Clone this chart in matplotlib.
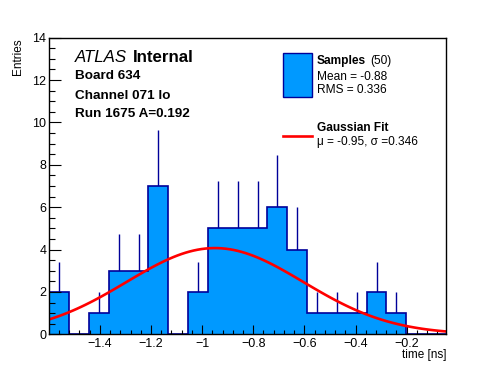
"""Timing histogram for one channel with a Gaussian fit overlaid."""

import numpy as np
import matplotlib
matplotlib.use("Agg")
import matplotlib.pyplot as plt
from matplotlib.ticker import MultipleLocator, FuncFormatter
from matplotlib.patches import Rectangle
from matplotlib.lines import Line2D

# Histogram contents (20 bins between the lowest and highest sample)
counts = [2, 0, 1, 3, 3, 7, 0, 2, 5, 5, 5, 6, 4, 1, 1, 1, 2, 1, 0, 0]
x_min, x_max = -1.598, -0.046

# Gaussian fit result
fit_mu = -0.95
fit_sigma = 0.346
fit_amp = 4.07

# Stats shown in the legend
n_samples = 50
sample_mean = -0.88
sample_rms = 0.336

FILL = "#0099ff"
EDGE = "#000099"

W, H = 496, 372
plt.rcParams["font.family"] = ["Liberation Sans", "DejaVu Sans"]

fig = plt.figure(figsize=(W / 100, H / 100), dpi=100)
ax = fig.add_axes([49.3 / W, 1 - 334.3 / H, (446 - 49.3) / W, (334.3 - 37.7) / H])


def fx(px):
    return px / W


def fy(py):
    return 1 - py / H


edges = np.linspace(x_min, x_max, len(counts) + 1)
centers = 0.5 * (edges[:-1] + edges[1:])
counts = np.array(counts, dtype=float)

# error bars (only the part above the bar shows in the original)
nz = counts > 0
ax.vlines(centers[nz], counts[nz], counts[nz] + np.sqrt(counts[nz]),
          color=EDGE, linewidth=1.0, zorder=0.9)

# keep everything below the axis (zorder 2.5) so ticks show over the fill
ax.stairs(counts, edges, fill=True, facecolor=FILL, edgecolor="none", zorder=1.0)
ax.stairs(counts, edges, fill=False, color=EDGE, linewidth=1.2, zorder=1.2)

# fitted gaussian, sampled like a TF1 with 100 points
xf = np.linspace(x_min, x_max, 100)
yf = fit_amp * np.exp(-0.5 * ((xf - fit_mu) / fit_sigma) ** 2)
ax.plot(xf, yf, color="red", linewidth=1.9, zorder=2.0)

ax.set_xlim(x_min, x_max)
ax.set_ylim(0, 14)

ax.xaxis.set_major_locator(MultipleLocator(0.2))
ax.xaxis.set_minor_locator(MultipleLocator(0.04))
ax.yaxis.set_major_locator(MultipleLocator(2))
ax.yaxis.set_minor_locator(MultipleLocator(0.5))
ax.xaxis.set_major_formatter(FuncFormatter(lambda v, p: f"{v:g}".replace("-", "\u2212")))
ax.yaxis.set_major_formatter(FuncFormatter(lambda v, p: f"{v:g}"))

ax.tick_params(axis="both", which="both", direction="in", top=False, right=False,
               width=0.8, labelsize=9)
ax.tick_params(axis="x", which="major", length=6.5, pad=3)
ax.tick_params(axis="x", which="minor", length=3.2)
ax.tick_params(axis="y", which="major", length=8.6, pad=2)
ax.tick_params(axis="y", which="minor", length=4.3)
for s in ax.spines.values():
    s.set_linewidth(1.0)

# axis titles, ROOT style (at the ends of the axes)
fig.text(fx(18), fy(38), "Entries", rotation=90, ha="center", va="top", fontsize=8.5)
fig.text(fx(446), fy(355), "time [ns]", ha="right", va="center", fontsize=8.5)

# ATLAS label block
fig.text(fx(75), fy(57), "ATLAS", style="italic", ha="left", va="center", fontsize=12.2)
fig.text(fx(133), fy(57), "Internal", weight="bold", ha="left", va="center", fontsize=12.2)
fig.text(fx(75), fy(76), "Board 634", weight="bold", ha="left", va="center", fontsize=9.7)
fig.text(fx(75), fy(96), "Channel 071 lo", weight="bold", ha="left", va="center", fontsize=9.7)
fig.text(fx(75), fy(114), "Run 1675 A=0.192", weight="bold", ha="left", va="center", fontsize=9.7)

# legend, drawn by hand like the ROOT TLegend
fig.patches.append(Rectangle((fx(283), fy(97)), fx(312) - fx(283), fy(53) - fy(97),
                             transform=fig.transFigure, facecolor=FILL,
                             edgecolor=EDGE, linewidth=1.0))
fig.lines.append(Line2D([fx(283), fx(312)], [fy(136), fy(136)],
                        transform=fig.transFigure, color="red", linewidth=1.9))
fig.text(fx(317), fy(61), "Samples", weight="bold", ha="left", va="center", fontsize=8.6)
fig.text(fx(370), fy(61), f"({n_samples})", ha="left", va="center", fontsize=8.6)
fig.text(fx(317), fy(77), f"Mean = {sample_mean:.2f}", ha="left", va="center", fontsize=8.6)
fig.text(fx(317), fy(90), f"RMS = {sample_rms:.3f}", ha="left", va="center", fontsize=8.6)
fig.text(fx(317), fy(128), "Gaussian Fit", weight="bold", ha="left", va="center", fontsize=8.6)
fig.text(fx(317), fy(142), f"\u03bc = {fit_mu:.2f}, \u03c3 ={fit_sigma:.3f}",
         ha="left", va="center", fontsize=8.6)

fig.savefig("out.png", dpi=100)
plt.close(fig)
